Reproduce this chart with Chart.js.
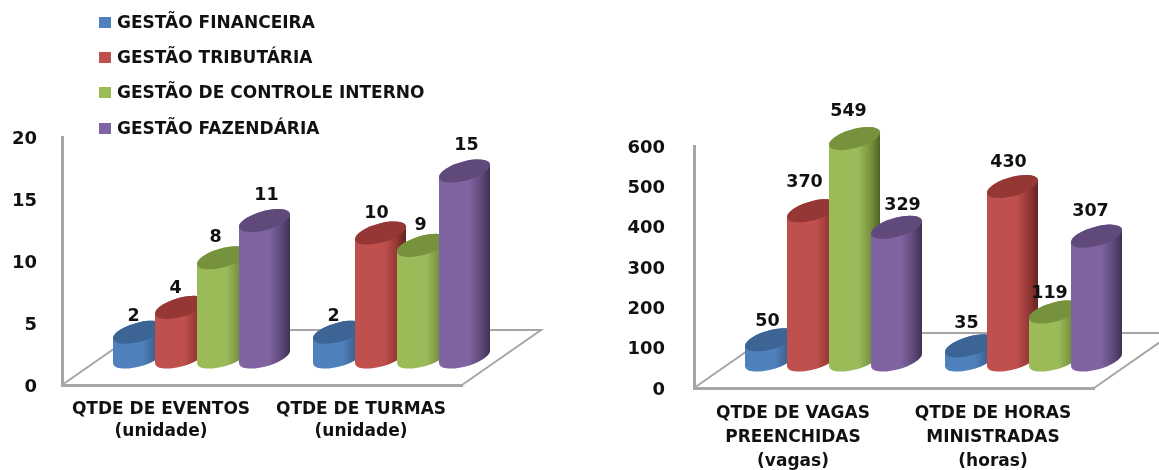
<!DOCTYPE html>
<html>
<head>
<meta charset="utf-8">
<style>
  html, body { margin: 0; padding: 0; background: #fff; }
  #page { position: relative; width: 1159px; height: 470px; overflow: hidden; }
  #page canvas { position: absolute; top: 0; }
  #legend { position: absolute; left: 99px; top: 0; z-index: 2; font: bold 17px "DejaVu Sans", sans-serif; color: #111; }
  #legend div { position: absolute; white-space: nowrap; left: 18px; line-height: 20px; }
  #legend i { position: absolute; left: -18px; top: 5px; width: 12px; height: 11px; }
</style>
<script src="https://cdn.jsdelivr.net/npm/chart.js@4"></script>
</head>
<body>
<div id="page">
  <div id="legend"></div>
  <canvas id="leftChart" style="left:0"></canvas>
  <canvas id="rightChart" style="left:579px"></canvas>
</div>
<script>
const seriesNames = ['GESTÃO FINANCEIRA', 'GESTÃO TRIBUTÁRIA', 'GESTÃO DE CONTROLE INTERNO', 'GESTÃO FAZENDÁRIA'];
const seriesColors = ['#4f81bd', '#c0504d', '#9bbb59', '#8064a2'];
const seriesTops = ['#3c6494', '#953735', '#76923c', '#604a7b'];
const seriesShades = ['#244061', '#632523', '#4f6228', '#3f3151'];

const leftCategories = [['QTDE DE EVENTOS', '(unidade)'], ['QTDE DE TURMAS', '(unidade)']];
const leftFinanceira = [2, 2];
const leftTributaria = [4, 10];
const leftControle = [8, 9];
const leftFazendaria = [11, 15];

const rightCategories = [['QTDE DE VAGAS', 'PREENCHIDAS', '(vagas)'], ['QTDE DE HORAS', 'MINISTRADAS', '(horas)']];
const rightFinanceira = [50, 35];
const rightTributaria = [370, 430];
const rightControle = [549, 119];
const rightFazendaria = [329, 307];

// hand placed value labels, same order as the series: [dx, dy] from the top of the cylinder
const leftNudges = [[[-5, -16], [-5, -19], [-7, -20], [2, -25]], [[-5, -16], [-4, -20], [-2, -20], [2, -26]]];
const rightNudges = [[[-3, -18], [-8, -28], [-6, -27], [6, -22]], [[-4, -22], [-4, -24], [-5, -19], [-6, -25]]];

const wallColor = '#a6a6a6';

// fake 3D: everything sits this far behind the axis plane
const shiftX = 35, shiftY = -28, extraW = 9, shear = 0.24, minorR = 9.8;

function ellipseArc(ctx, cx, cy, a, start, end, ccw) {
  ctx.save();
  ctx.transform(1, -shear, 0, 1, cx, cy);
  ctx.ellipse(0, 0, a, minorR, 0, start, end, ccw);
  ctx.restore();
}

const cylinders = {
  id: 'cylinders',
  // floor goes under the bars
  beforeDatasetsDraw(chart) {
    const { ctx, chartArea: area } = chart;
    const backX = 79, backY = -55;
    ctx.save();
    ctx.strokeStyle = wallColor;
    ctx.lineWidth = 2;
    ctx.beginPath();
    ctx.moveTo(area.left, area.bottom);
    ctx.lineTo(area.left + backX, area.bottom + backY);
    ctx.lineTo(area.right + backX, area.bottom + backY);
    ctx.lineTo(area.right, area.bottom);
    ctx.stroke();
    ctx.restore();
  },
  afterDatasetsDraw(chart, args, opts) {
    const { ctx } = chart;
    chart.data.datasets.forEach((ds, i) => {
      chart.getDatasetMeta(i).data.forEach((bar) => {
        const w = bar.width + extraW, a = w / 2;
        const x0 = bar.x - bar.width / 2 + shiftX;
        const cx = x0 + a, top = bar.y + shiftY, base = bar.base + shiftY;
        const grad = ctx.createLinearGradient(x0, 0, x0 + w, 0);
        grad.addColorStop(0, seriesColors[i]);
        grad.addColorStop(0.58, seriesColors[i]);
        grad.addColorStop(0.82, seriesTops[i]);
        grad.addColorStop(1, seriesShades[i]);
        ctx.beginPath();
        ellipseArc(ctx, cx, base, a, Math.PI, 0, true);
        ellipseArc(ctx, cx, top, a, 0, Math.PI, true);
        ctx.closePath();
        ctx.fillStyle = grad;
        ctx.fill();
        ctx.beginPath();
        ellipseArc(ctx, cx, top, a, 0, Math.PI * 2, false);
        ctx.fillStyle = seriesTops[i];
        ctx.fill();
      });
    });
    // labels last so the neighbours do not cover them
    ctx.save();
    ctx.font = 'bold 17.5px "DejaVu Sans", sans-serif';
    ctx.fillStyle = '#111';
    ctx.textAlign = 'center';
    ctx.textBaseline = 'middle';
    chart.data.datasets.forEach((ds, i) => {
      chart.getDatasetMeta(i).data.forEach((bar, j) => {
        const n = opts.nudges[j][i];
        const cx = bar.x - bar.width / 2 + shiftX + (bar.width + extraW) / 2;
        ctx.fillText(ds.data[j], cx + n[0], bar.y + shiftY + n[1]);
      });
    });
    ctx.restore();
  }
};

function build(id, labels, values, opt) {
  const canvas = document.getElementById(id);
  canvas.width = opt.width;
  canvas.height = 470;
  canvas.style.width = opt.width + 'px';
  canvas.style.height = '470px';
  return new Chart(canvas, {
    type: 'bar',
    data: {
      labels: labels,
      datasets: values.map((v, i) => ({ label: seriesNames[i], data: v, backgroundColor: 'transparent' }))
    },
    options: {
      responsive: false,
      animation: false,
      devicePixelRatio: 1,
      layout: { padding: { left: 0, right: opt.width - opt.right, top: opt.top, bottom: 0 } },
      datasets: { bar: { barPercentage: 1, categoryPercentage: 0.84 } },
      plugins: { legend: { display: false }, tooltip: { enabled: false }, cylinders: { nudges: opt.nudges } },
      scales: {
        x: {
          grid: { display: false, drawTicks: false },
          border: { color: wallColor, width: 3 },
          afterFit: (s) => { s.height = 470 - opt.bottom; },
          ticks: { color: '#111', font: { family: '"DejaVu Sans", sans-serif', size: 17, weight: 'bold', lineHeight: opt.lineHeight }, padding: 14, labelOffset: -1, maxRotation: 0, autoSkip: false }
        },
        y: {
          min: 0,
          max: opt.max,
          grid: { display: false, drawTicks: false },
          border: { color: wallColor, width: 3 },
          afterFit: (s) => { s.width = opt.left; },
          ticks: { stepSize: opt.step, color: '#111', font: { family: '"DejaVu Sans", sans-serif', size: 18, weight: 'bold' }, padding: opt.tickPad, labelOffset: 2 }
        }
      }
    },
    plugins: [cylinders]
  });
}

build('leftChart', leftCategories, [leftFinanceira, leftTributaria, leftControle, leftFazendaria],
  { width: 580, left: 62, right: 462, top: 137, bottom: 385, max: 20, step: 5, nudges: leftNudges, lineHeight: 1.28, tickPad: 25 });
build('rightChart', rightCategories, [rightFinanceira, rightTributaria, rightControle, rightFazendaria],
  { width: 580, left: 115, right: 515, top: 146, bottom: 388, max: 600, step: 100, nudges: rightNudges, lineHeight: 1.41, tickPad: 29 });

// legend rows
const legend = document.getElementById('legend');
const rowTops = [12, 47, 82, 118];
seriesNames.forEach((name, i) => {
  const row = document.createElement('div');
  row.style.top = rowTops[i] + 'px';
  row.innerHTML = '<i style="background:' + seriesColors[i] + '"></i>' + name;
  legend.appendChild(row);
});
</script>
</body>
</html>
